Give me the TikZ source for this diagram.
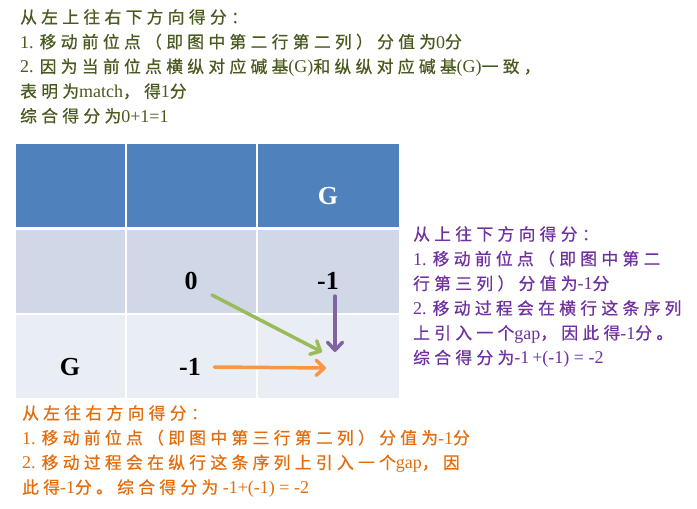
\documentclass[tikz,border=0pt]{standalone}
\usepackage{fontspec}
\setmainfont{Liberation Serif}
\newfontfamily\zh[Scale=0.93,LetterSpace=26,FakeBold=0.6]{Noto Sans CJK SC}
\usetikzlibrary{arrows.meta,positioning}
\definecolor{hdblue}{RGB}{79,129,189}
\definecolor{rowa}{RGB}{208,216,232}
\definecolor{rowb}{RGB}{233,237,244}
\definecolor{arrgreen}{RGB}{155,187,89}
\definecolor{arrpurple}{RGB}{128,100,162}
\definecolor{arrorange}{RGB}{247,150,70}
\definecolor{txtolive}{RGB}{72,90,30}
\definecolor{txtpurple}{RGB}{112,48,160}
\definecolor{txtorange}{RGB}{228,108,10}
\tikzset{
  cell/.style={rectangle,draw=white,line width=1.5pt,minimum height=85pt},
  note/.style={anchor=north west,inner sep=0pt,align=left,font=\fontsize{18}{24.7}\selectfont},
  score/.style={font=\fontsize{26}{26}\selectfont\bfseries}
}
\begin{document}
\begin{tikzpicture}[x=1pt,y=-1pt]
		\useasboundingbox[fill=white] (0,0) rectangle (697,509);

		\begin{scope}[every node/.style={cell}]
			\node[fill=hdblue,minimum width=111pt] (h1) at (70.5,185.5) {};
			\node[fill=hdblue,minimum width=131pt] (h2) at (191.5,185.5) {};
			\node[fill=hdblue,minimum width=143pt] (h3) at (328.5,185.5) {};
			\node[fill=rowa,minimum width=111pt] (m1) at (70.5,271.5) {};
			\node[fill=rowa,minimum width=131pt] (m2) at (191.5,271.5) {};
			\node[fill=rowa,minimum width=143pt] (m3) at (328.5,271.5) {};
			\node[fill=rowb,minimum width=111pt] (b1) at (70.5,356.5) {};
			\node[fill=rowb,minimum width=131pt] (b2) at (191.5,356.5) {};
			\node[fill=rowb,minimum width=143pt] (b3) at (328.5,356.5) {};
		\end{scope}

		\begin{scope}[every node/.style={score}]
			\node[text=white] (gtop) at (328,196) {G};
			\node (zero) at (191,281) {0};
			\node (up) at (328,281) {-1};
			\node (gleft) at (70,367) {G};
			\node (left) at (190,367) {-1};
		\end{scope}

		\coordinate (dg) at (322,352);
		\coordinate (dp) at (335,352);
		\coordinate (do) at (326,368);

		\begin{scope}[line width=3.5pt,line cap=round,
				>={Straight Barb[length=8pt,width=15pt,line cap=round,line join=round]}]
			\draw[->,arrgreen] (212,295) -- (dg);
			\draw[->,arrpurple] (up.south -| dp) ++(0,3) -- (dp);
			\draw[->,arrorange] (left.east) ++(10,0) -- (do);
		\end{scope}

		\node[note,text=txtolive] (topnote) at (20,9) {%
			{\zh 从左上往右下方向得分：}\\
			1. {\zh 移动前位点（即图中第二行第二列）分值为}0{\zh 分}\\
			2. {\zh 因为当前位点横纵对应碱基}(G){\zh 和纵纵对应碱基}(G){\zh 一致，}\\
			{\zh 表明为}match{\zh ，得}1{\zh 分}\\
			{\zh 综合得分为}0+1=1};

		\node[note,text=txtpurple] (rightnote) at (413,226) {%
			{\zh 从上往下方向得分：}\\
			1. {\zh 移动前位点（即图中第二}\\
			{\zh 行第三列）分值为}-1{\zh 分}\\
			2. {\zh 移动过程会在横行这条序列}\\
			{\zh 上引入一个}gap{\zh ，因此得}-1{\zh 分。}\\
			{\zh 综合得分为}-1\,+(-1) = -2};

		\node[note,text=txtorange] (bottomnote) at (22,405) {%
			{\zh 从左往右方向得分：}\\
			1. {\zh 移动前位点（即图中第三行第二列）分值为}-1{\zh 分}\\
			2. {\zh 移动过程会在纵行这条序列上引入一个}gap{\zh ，因}\\
			{\zh 此得}-1{\zh 分。综合得分为} -1+(-1) = -2};
	\end{tikzpicture}
\end{document}
